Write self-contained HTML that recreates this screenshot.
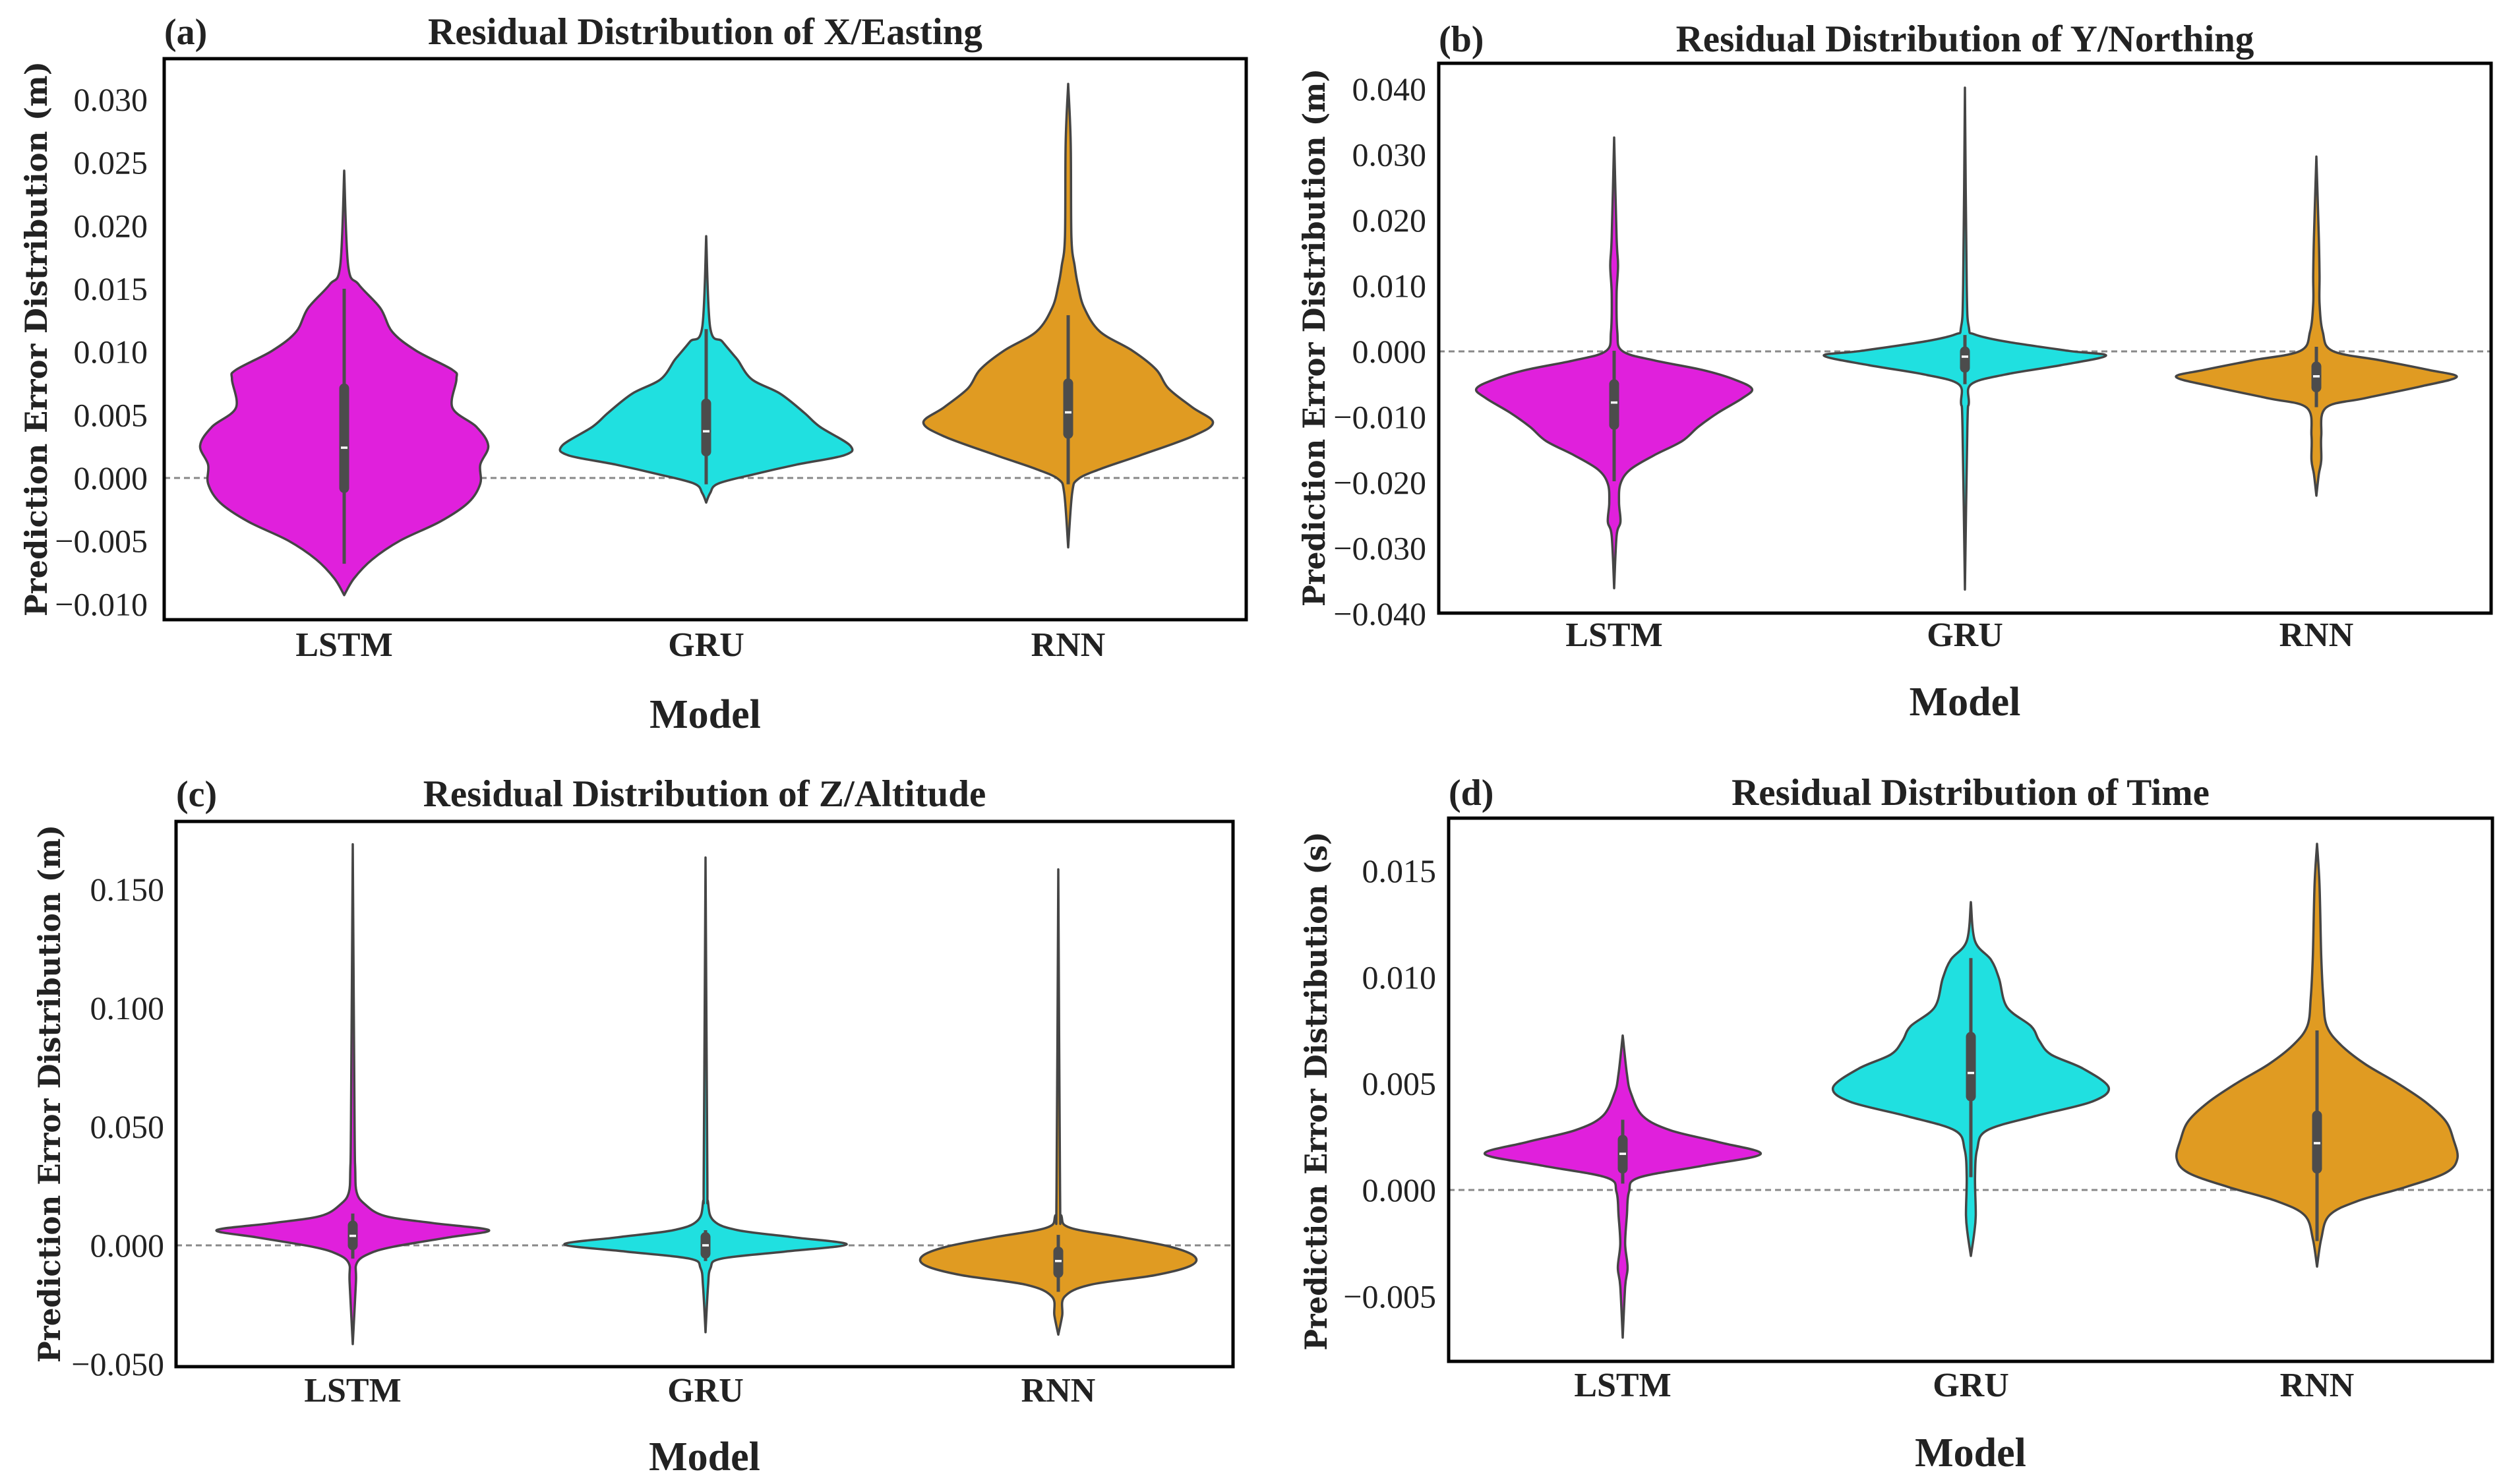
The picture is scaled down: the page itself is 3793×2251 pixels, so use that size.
<!DOCTYPE html>
<html><head><meta charset="utf-8">
<style>
html,body{margin:0;padding:0;background:#fff;}
svg{display:block;}
</style></head>
<body>
<svg id="fig" width="3793" height="2251" viewBox="0 0 3793 2251" xmlns="http://www.w3.org/2000/svg" font-family="'Liberation Serif', serif"></svg>
<script>
const models = ["LSTM","GRU","RNN"];
const colors = ["#e020dc","#20e0e0","#e09b22"];
// panel (a)
const aTicks = [-0.010,-0.005,0.000,0.005,0.010,0.015,0.020,0.025,0.030];
const aYs = [
 [.02436,.01684,.01534,.01346,.01158,.01008,.00857,.00782,.00556,.00406,.00256,.00105,-.00045,-.00195,-.00346,-.00496,-.00647,-.00797,-.00929],
 [.01917,.01195,.01083,.0097,.00932,.00782,.00669,.00519,.00406,.00256,.0018,.00105,.0003,-.00045,-.0012,-.00195],
 [.03124,.0266,.0191,.0168,.0153,.0135,.0116,.0101,.0086,.0071,.0056,.0044,.0033,.0018,.0007,-.0001,-.0012,-.0055]];
const aDens = [
 [0,.011,.040,.100,.133,.199,.299,.310,.299,.365,.398,.376,.376,.343,.265,.155,.077,.027,0],
 [0,.011,.044,.077,.088,.126,.204,.270,.314,.398,.381,.248,.133,.033,.011,0],
 [0,.007,.009,.018,.027,.044,.088,.177,.243,.277,.343,.400,.343,.199,.088,.027,.011,0]];
const aBox = [[-.0008,.0071,.0024,-.0068,.015],[.0021,.0059,.0037,-.0005,.0118],[.0035,.0075,.0052,-.0005,.0129]];
// panel (b)
const bTicks = [-0.040,-0.030,-0.020,-0.010,0.000,0.010,0.020,0.030,0.040];
const bYs = [
 [.0326,.0174,.0131,.0088,.003,.00007,-.00137,-.00282,-.00427,-.00571,-.00716,-.00933,-.0115,-.01367,-.01584,-.01801,-.02018,-.02307,-.02597,-.02814,-.0361],
 [.0402,.0102,.0037,.0026,.00152,.00007,-.00065,-.0021,-.00354,-.005,-.0079,-.0115,-.0363],
 [.0297,.0174,.0116,.0073,.003,.00007,-.00137,-.00282,-.0039,-.00535,-.00716,-.0086,-.0129,-.0166,-.0187,-.022]];
const bDens = [
 [0,.007,.011,.007,.009,.023,.114,.251,.342,.393,.365,.297,.240,.194,.114,.046,.018,.014,.018,.007,0],
 [0,.005,.011,.027,.114,.297,.402,.274,.114,.018,.011,.007,0],
 [0,.007,.009,.009,.018,.046,.183,.320,.400,.297,.137,.027,.014,.014,.007,0]];
const bBox = [[-.0112,-.005,-.0078,-.0198,.0001],[-.0025,0,-.0008,-.005,.0025],[-.0055,-.0023,-.0038,-.0085,.0007]];
// panel (c)
const cTicks = [-0.050,0.000,0.050,0.100,0.150];
const cYs = [
 [.169,.0524,.0324,.0224,.0174,.0124,.0094,.0064,.0034,-.0006,-.0036,-.0076,-.0156,-.0416],
 [.1634,.0324,.0184,.0104,.0064,.0034,.0004,-.0026,-.0056,-.0096,-.0176,-.0366],
 [.1584,.0224,.0124,.0074,.0034,-.0006,-.0046,-.0086,-.0126,-.0166,-.0216,-.0296,-.0376]];
const cDens = [
 [0,.005,.007,.011,.034,.091,.227,.386,.273,.114,.045,.011,.009,0],
 [0,.005,.007,.023,.091,.250,.400,.227,.045,.014,.007,0],
 [0,.005,.009,.034,.182,.318,.386,.375,.273,.091,.018,.011,0]];
const cBox = [[0,.0084,.004,-.0056,.0134],[-.0035,.0035,0,-.0066,.0064],[-.0116,-.0026,-.0066,-.0196,.0044]];
// panel (d)
const dTicks = [-0.005,0.000,0.005,0.010,0.015];
const dYs = [
 [.00726,.00547,.00458,.00347,.0028,.00225,.00169,.00114,.00058,-.00009,-.0012,-.00254,-.00365,-.00454,-.00694],
 [.01353,.0117,.01082,.00993,.00859,.0077,.00703,.00637,.0057,.00481,.00414,.00347,.0028,.00191,.00058,-.0012,-.0021,-.0031],
 [.01627,.01438,.01104,.00904,.0077,.00681,.00592,.00503,.00414,.00325,.00236,.00147,.0008,.00013,-.00053,-.0012,-.00231,-.0036]];
const dDens = [
 [0,.012,.023,.058,.138,.276,.396,.230,.046,.018,.012,.007,.014,.007,0],
 [0,.012,.058,.081,.104,.173,.196,.230,.323,.396,.346,.184,.046,.018,.012,.014,.009,0],
 [0,.007,.012,.018,.028,.069,.138,.230,.311,.369,.392,.403,.369,.253,.115,.035,.012,0]];
const dBox = [[.001,.00236,.0017,.0003,.0033],[.0044,.0072,.0055,.0006,.0109],[.001,.0035,.0022,-.0024,.0075]];

const panels = [
 {id:"a",label:"(a)",title:"Residual Distribution of X/Easting",yl:"Prediction Error Distribution (m)",
  L:249,T:89,R:1890,B:940,v0:0,p0:725,v1:0.03,p1:151,cx:[522,1071,1620],sp:549,ticks:aTicks,ys:aYs,dens:aDens,box:aBox,
  tickEnd:224,titleY:67,xlY:995,modelY:1104,ylX:55,ylC:514,ylLen:842},
 {id:"b",label:"(b)",title:"Residual Distribution of Y/Northing",yl:"Prediction Error Distribution (m)",
  L:2182,T:96,R:3778,B:930,v0:0,p0:533,v1:0.04,p1:135,cx:[2448,2980,3513],sp:532,ticks:bTicks,ys:bYs,dens:bDens,box:bBox,
  tickEnd:2163,titleY:78,xlY:980,modelY:1085,ylX:1993,ylC:512,ylLen:816},
 {id:"c",label:"(c)",title:"Residual Distribution of Z/Altitude",yl:"Prediction Error Distribution (m)",
  L:267,T:1246,R:1870,B:2073,v0:0,p0:1889,v1:0.15,p1:1349,cx:[535,1070,1605],sp:535,ticks:cTicks,ys:cYs,dens:cDens,box:cBox,
  tickEnd:249,titleY:1223,xlY:2126,modelY:2230,ylX:75,ylC:1659,ylLen:816},
 {id:"d",label:"(d)",title:"Residual Distribution of Time",yl:"Prediction Error Distribution (s)",
  L:2197,T:1241,R:3780,B:2065,v0:0,p0:1805,v1:0.015,p1:1321,cx:[2461,2989,3514],sp:528,ticks:dTicks,ys:dYs,dens:dDens,box:dBox,
  tickEnd:2178,titleY:1221,xlY:2118,modelY:2224,ylX:1996,ylC:1655,ylLen:787}
];
const NS="http://www.w3.org/2000/svg";
const svg=document.getElementById("fig");
function el(tag,attrs,parent,text){const e=document.createElementNS(NS,tag);for(const k in attrs)e.setAttribute(k,attrs[k]);if(text!==undefined)e.textContent=text;(parent||svg).appendChild(e);return e;}
function smooth(pts){let d="M"+pts[0][0].toFixed(1)+","+pts[0][1].toFixed(1);
 for(let i=0;i<pts.length-1;i++){const p0=pts[Math.max(0,i-1)],p1=pts[i],p2=pts[i+1],p3=pts[Math.min(pts.length-1,i+2)];
  const c1=[p1[0]+(p2[0]-p0[0])/6,p1[1]+(p2[1]-p0[1])/6],c2=[p2[0]-(p3[0]-p1[0])/6,p2[1]-(p3[1]-p1[1])/6];
  d+="C"+c1[0].toFixed(1)+","+c1[1].toFixed(1)+" "+c2[0].toFixed(1)+","+c2[1].toFixed(1)+" "+p2[0].toFixed(1)+","+p2[1].toFixed(1);}
 return d;}
function fmt(v){const s=Math.abs(v).toFixed(3);return (v<-1e-9?"\u2212":"")+s;}
panels.forEach(p=>{
 const g=el("g",{});
 
 
 const sc=(p.p1-p.p0)/(p.v1-p.v0);
 const y=v=>p.p0+(v-p.v0)*sc;
 const z=el("line",{x1:p.L,x2:p.R,y1:y(0),y2:y(0),stroke:"#888", "stroke-width":3,"stroke-dasharray":"9,6"},g);
 
 
 models.forEach((m,i)=>{
  const cx=p.cx[i],ys=p.ys[i],ds=p.dens[i];
  const right=ys.map((v,k)=>[cx+ds[k]*p.sp,y(v)]);
  const left=ys.map((v,k)=>[cx-ds[k]*p.sp,y(v)]).reverse();
  const d=smooth(right)+" L"+smooth(left).slice(1)+"Z";
  const vp=el("path",{d:d,fill:colors[i],stroke:"#454545","stroke-width":3.5,"stroke-linejoin":"round"},g);
  
  
  const b=p.box[i];
  const wl=el("line",{x1:cx,x2:cx,y1:y(b[3]),y2:y(b[4]),stroke:"#4c4c4c","stroke-width":5},g);
  
  
  const bx=el("line",{x1:cx,x2:cx,y1:y(b[0]),y2:y(b[1]),stroke:"#4c4c4c","stroke-width":15,"stroke-linecap":"round"},g);
  
  
  const md=el("line",{x1:cx-5,x2:cx+5,y1:y(b[2]),y2:y(b[2]),stroke:"#fff","stroke-width":3.5},g);
  
  
  const xl=el("text",{x:cx,y:p.xlY,"text-anchor":"middle","font-size":52,"font-weight":"bold",fill:"#222"},g,m);
  
  
 });
 p.ticks.forEach(t=>{
  const tl=el("text",{x:p.tickEnd,y:y(t)+17,"text-anchor":"end","font-size":50,fill:"#222"},g,fmt(t));
  
  
 });
 const fr=el("rect",{x:p.L,y:p.T,width:p.R-p.L,height:p.B-p.T,fill:"none",stroke:"#000","stroke-width":5},g);
 
 
 const tt=el("text",{x:(p.L+p.R)/2,y:p.titleY,"text-anchor":"middle","font-size":57,"font-weight":"bold",fill:"#222"},g,p.title);
 
 
 const pl=el("text",{x:p.L,y:p.titleY,"font-size":56,"font-weight":"bold",fill:"#222"},g,p.label);
 
 
 const mx=el("text",{x:(p.L+p.R)/2,y:p.modelY,"text-anchor":"middle","font-size":62,"font-weight":"bold",fill:"#222"},g,"Model");
 
 
 const yt=el("text",{x:0,y:0,transform:"translate("+(p.ylX+16)+","+p.ylC+") rotate(-90)","text-anchor":"middle","font-size":46,"font-weight":"bold","font-family":"'DejaVu Serif', serif",fill:"#222",textLength:p.ylLen,lengthAdjust:"spacingAndGlyphs"},g,p.yl);
 
 
});
</script>
</body></html>
